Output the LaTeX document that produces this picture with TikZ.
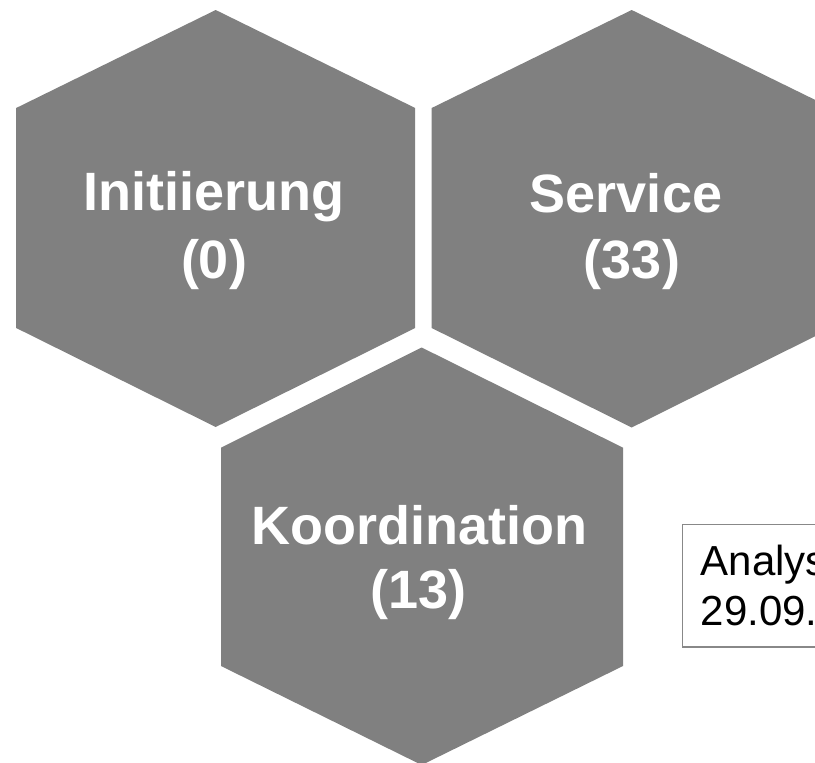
\documentclass[tikz,border=0pt]{standalone}
\usepackage{fontspec}
\setmainfont{Liberation Sans}
\definecolor{hexgray}{RGB}{128,128,128}
\definecolor{boxgray}{RGB}{136,136,136}
\begin{document}
\begin{tikzpicture}[x=1pt,y=-1pt,
  hexfill/.style={fill=hexgray,draw=none},
  hextext/.style={anchor=base,text=white,inner sep=0pt,font=\fontsize{54}{64}\bfseries\selectfont},
  boxtext/.style={anchor=base west,text=black,inner sep=0pt,font=\fontsize{42}{49}\selectfont},
  notebox/.style={draw=boxgray,line width=1.5pt,fill=white}]
\clip (0,0) rectangle (815,763);
\fill[white] (0,0) rectangle (815,763);
% hexagons
\path[hexfill] (215.7,10) -- (415.2,108) -- (415.2,328) -- (215.7,427) -- (16.2,328) -- (16.2,108) -- cycle;
\path[hexfill] (631.7,10) -- (831.7,108) -- (831.7,328) -- (631.7,427.5) -- (431.7,328) -- (431.7,108) -- cycle;
\path[hexfill] (421.7,347.5) -- (623,447.7) -- (623,666) -- (421.7,765) -- (221,666) -- (221,447.7) -- cycle;
% labels
\node[hextext] (init1) at (213.5,210) {Initiierung};
\node[hextext] (init2) at (214,278) {(0)};
\node[hextext] (serv1) at (626,212) {Service};
\node[hextext] (serv2) at (632,278) {(33)};
\node[hextext] (koor1) at (419.2,544) {Koordination};
\node[hextext] (koor2) at (418.8,608) {(13)};
% note box
\path[notebox] (682.5,524.3) rectangle (900,647);
\node[boxtext] (note1) at (700.5,575) {Analyse};
\node[boxtext] (note2) at (700.5,625) {29.09.};
\end{tikzpicture}
\end{document}
